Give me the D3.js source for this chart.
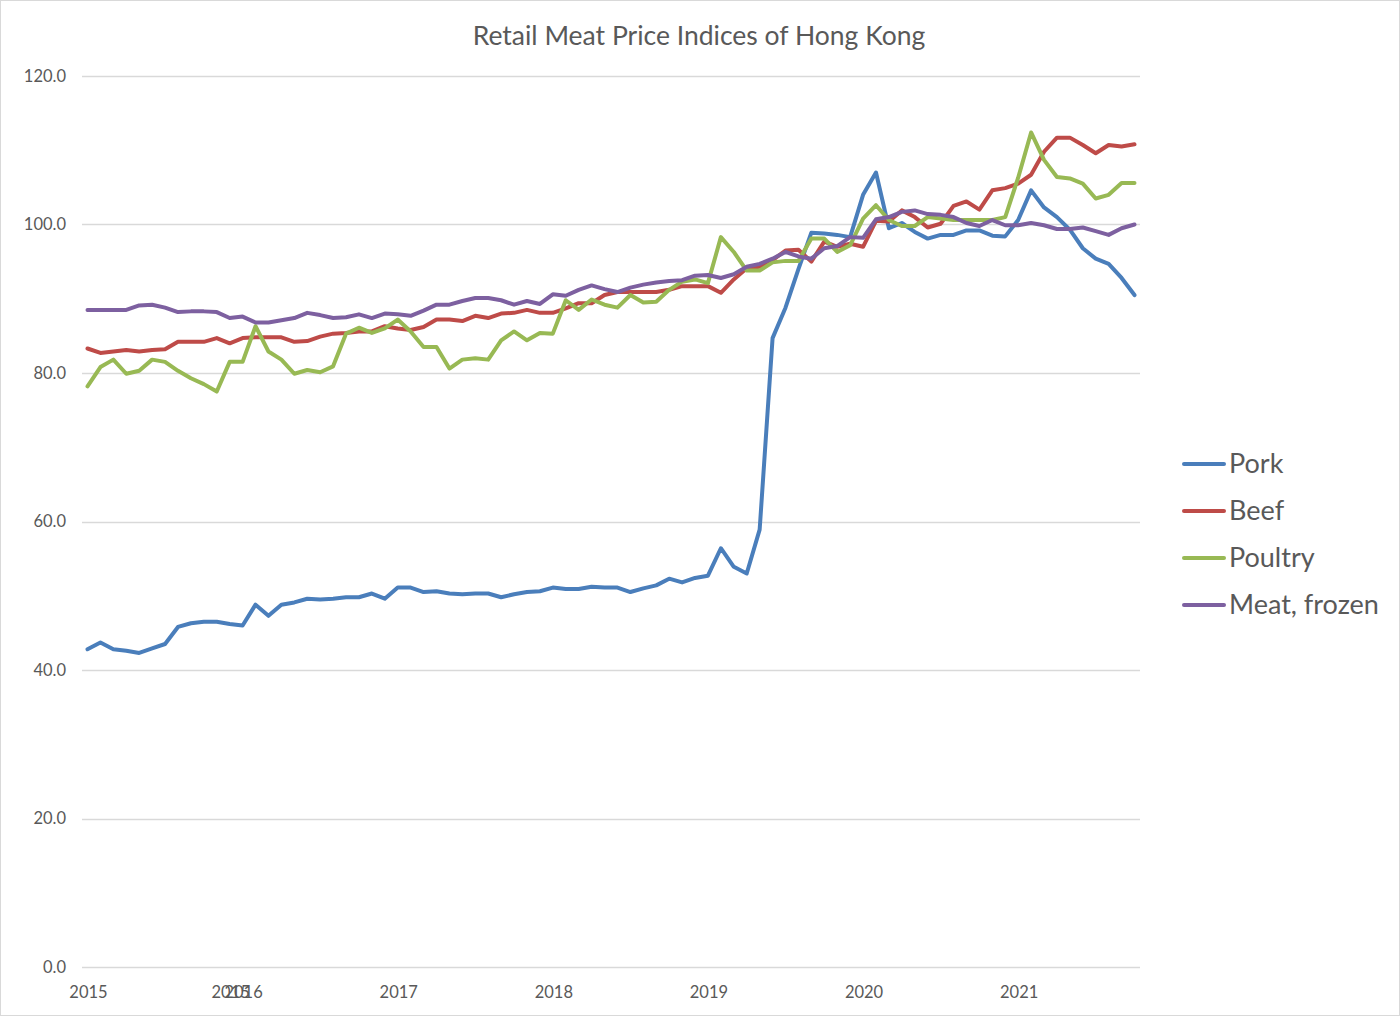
<!DOCTYPE html>
<html>
<head>
<meta charset="utf-8">
<script src="https://cdn.jsdelivr.net/npm/d3@7"></script>
<style>
  html, body { margin: 0; padding: 0; background: #ffffff; }
  svg { display: block; }
  text { font-family: Lato, "Open Sans", sans-serif; fill: #595959; }
</style>
</head>
<body>
<svg id="chart" width="1400" height="1016"></svg>
<script>
// ---- Data (monthly, Jan 2015 .. Oct 2021) ----
const title = "Retail Meat Price Indices of Hong Kong";
const seriesNames = ["Pork", "Beef", "Poultry", "Meat, frozen"];
const seriesColors = ["#4A7EBB", "#BE4B48", "#98B954", "#7D60A0"];

const pork = [
  42.8, 43.7, 42.8, 42.6, 42.3, 42.9, 43.5, 45.8, 46.3, 46.5, 46.5, 46.2,
  46.0, 48.8, 47.3, 48.8, 49.1, 49.6, 49.5, 49.6, 49.8, 49.8, 50.3, 49.6,
  51.1, 51.1, 50.5, 50.6, 50.3, 50.2, 50.3, 50.3, 49.8, 50.2, 50.5, 50.6,
  51.1, 50.9, 50.9, 51.2, 51.1, 51.1, 50.5, 51.0, 51.4, 52.3, 51.8, 52.4,
  52.7, 56.4, 53.9, 53.0, 58.9, 84.7, 88.8, 94.0, 98.9, 98.8, 98.6, 98.3,
  104.0, 107.0, 99.5, 100.2, 99.0, 98.1, 98.6, 98.6, 99.2, 99.2, 98.5, 98.4,
  100.6, 104.6, 102.3, 101.0, 99.3, 96.8, 95.4, 94.7, 92.8, 90.5
];
const beef = [
  83.3, 82.7, 82.9, 83.1, 82.9, 83.1, 83.2, 84.2, 84.2, 84.2, 84.7, 84.0,
  84.7, 84.8, 84.8, 84.8, 84.2, 84.3, 84.9, 85.3, 85.4, 85.6, 85.6, 86.3,
  86.0, 85.8, 86.2, 87.2, 87.2, 87.0, 87.7, 87.4, 88.0, 88.1, 88.5, 88.1,
  88.1, 88.7, 89.4, 89.4, 90.5, 90.9, 90.9, 90.9, 90.9, 91.2, 91.7, 91.7,
  91.7, 90.8, 92.6, 94.1, 94.3, 95.2, 96.5, 96.6, 95.0, 97.7, 97.0, 97.4,
  97.0, 100.5, 100.4, 101.9, 101.0, 99.6, 100.1, 102.5, 103.1, 102.0, 104.6, 104.9,
  105.5, 106.7, 109.8, 111.7, 111.7, 110.7, 109.6, 110.7, 110.5, 110.8
];
const poultry = [
  78.2, 80.8, 81.8, 79.9, 80.3, 81.8, 81.5, 80.3, 79.3, 78.5, 77.5, 81.5,
  81.5, 86.3, 82.9, 81.8, 79.9, 80.4, 80.1, 80.9, 85.3, 86.1, 85.4, 86.0,
  87.2, 85.6, 83.5, 83.5, 80.6, 81.8, 82.0, 81.8, 84.4, 85.6, 84.4, 85.4,
  85.3, 89.8, 88.5, 89.9, 89.2, 88.8, 90.5, 89.5, 89.6, 91.2, 92.3, 92.6,
  92.1, 98.3, 96.3, 93.8, 93.8, 94.9, 95.1, 95.1, 98.1, 98.1, 96.3, 97.2,
  100.8, 102.6, 100.6, 99.8, 99.8, 101.0, 100.8, 100.6, 100.6, 100.6, 100.6, 101.0,
  106.3, 112.4, 108.7, 106.4, 106.2, 105.5, 103.5, 104.0, 105.6, 105.6
];
const meatFrozen = [
  88.5, 88.5, 88.5, 88.5, 89.1, 89.2, 88.8, 88.2, 88.3, 88.3, 88.2, 87.4,
  87.6, 86.8, 86.8, 87.1, 87.4, 88.1, 87.8, 87.4, 87.5, 87.9, 87.4, 88.0,
  87.9, 87.7, 88.4, 89.2, 89.2, 89.7, 90.1, 90.1, 89.8, 89.2, 89.7, 89.3,
  90.6, 90.4, 91.2, 91.8, 91.3, 90.9, 91.5, 91.9, 92.2, 92.4, 92.5, 93.1,
  93.2, 92.8, 93.3, 94.3, 94.7, 95.4, 96.3, 95.7, 95.4, 96.8, 97.1, 98.3,
  98.2, 100.7, 101.0, 101.7, 101.9, 101.4, 101.3, 101.0, 100.2, 99.8, 100.6, 99.9,
  99.9, 100.2, 99.9, 99.4, 99.4, 99.6, 99.1, 98.6, 99.5, 100.0
];

// x-axis labels as shown in the original (month index -> label)
const xTickIndex = [0, 11, 12, 24, 36, 48, 60, 72];
const xTickLabels = ["2015", "2015", "2016", "2017", "2018", "2019", "2020", "2021"];
const yTicks = [0, 20, 40, 60, 80, 100, 120];

// ---- Layout ----
const W = 1400, H = 1016;
const svg = d3.select("#chart");

svg.append("rect")
  .attr("x", 0.5).attr("y", 0.5).attr("width", W - 1).attr("height", H - 1)
  .attr("fill", "#ffffff").attr("stroke", "#d9d9d9").attr("stroke-width", 1);

const plot = { left: 82, right: 1140, top: 76, bottom: 967 };
const x = d3.scaleLinear().domain([0, pork.length - 1]).range([87.5, 1134.5]);
const y = d3.scaleLinear().domain([0, 120]).range([plot.bottom, plot.top]);

// Title
svg.append("text")
  .attr("x", 699).attr("y", 45)
  .attr("text-anchor", "middle")
  .style("font-size", "26.5px")
  .text(title);

// Gridlines
svg.append("g").selectAll("line").data(yTicks).join("line")
  .attr("x1", plot.left).attr("x2", plot.right)
  .attr("y1", d => Math.round(y(d)) + 0.5).attr("y2", d => Math.round(y(d)) + 0.5)
  .attr("stroke", "#d9d9d9").attr("stroke-width", 1.3);

// Y axis labels
const yAxis = d3.axisLeft(y).tickValues(yTicks).tickFormat(d3.format(".1f")).tickSize(0).tickPadding(0);
const gy = svg.append("g").attr("transform", "translate(66,0)").call(yAxis);
gy.select(".domain").remove();
gy.selectAll("text").style("font-size", "16.5px").attr("fill", "#595959")
  .style("font-family", "Lato, 'Open Sans', sans-serif");

// X axis labels
const gx = svg.append("g");
gx.selectAll("text").data(xTickIndex).join("text")
  .attr("x", d => x(d) + 1)
  .attr("y", 998)
  .attr("text-anchor", "middle")
  .style("font-size", "16.5px")
  .text((d, i) => xTickLabels[i]);

// Lines
const allSeries = [pork, beef, poultry, meatFrozen];
const line = d3.line().x((d, i) => x(i)).y(d => y(d));
allSeries.forEach((s, k) => {
  svg.append("path")
    .datum(s)
    .attr("d", line)
    .attr("fill", "none")
    .attr("stroke", seriesColors[k])
    .attr("stroke-width", 4)
    .attr("stroke-linejoin", "round")
    .attr("stroke-linecap", "round");
});

// Legend
const legendY = [464, 511, 558, 605];
const lg = svg.append("g");
seriesNames.forEach((name, k) => {
  lg.append("line")
    .attr("x1", 1184).attr("x2", 1224)
    .attr("y1", legendY[k]).attr("y2", legendY[k])
    .attr("stroke", seriesColors[k]).attr("stroke-width", 4)
    .attr("stroke-linecap", "round");
  lg.append("text")
    .attr("x", 1229).attr("y", legendY[k] + 9)
    .style("font-size", "27px")
    .text(name);
});
</script>
</body>
</html>
